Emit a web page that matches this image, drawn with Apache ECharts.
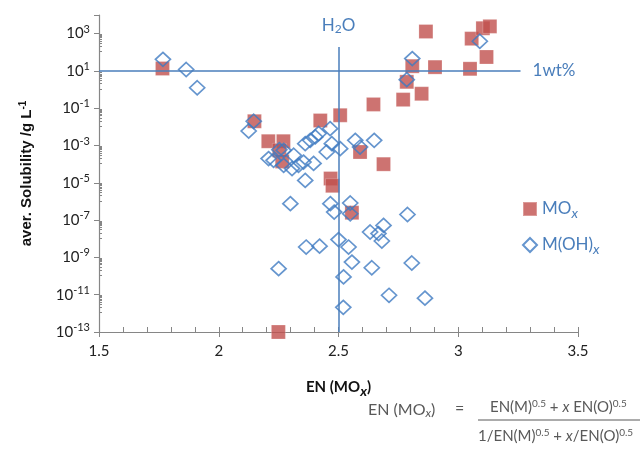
<!DOCTYPE html>
<html>
<head>
<meta charset="utf-8">
<script src="https://cdn.jsdelivr.net/npm/echarts@6/dist/echarts.min.js"></script>
<style>
  html, body { margin: 0; padding: 0; background: #fff; }
  #chart { width: 643px; height: 450px; }
</style>
</head>
<body>
<div id="chart"></div>
<script>
// --- 数据 ---
// MOx: EN 值与平均溶解度 (g/L)
const moxEN  = [1.765, 2.149, 2.207, 2.270, 2.253, 2.265, 2.424, 2.507, 2.467, 2.475,
                2.590, 2.688, 2.646, 2.770, 2.847, 2.785, 2.808, 2.903, 2.865, 3.049,
                3.056, 3.103, 3.132, 3.118, 2.249, 2.556];
const moxSol = [13.5, 0.02, 1.7e-3, 1.7e-3, 5.5e-4, 1.4e-4, 0.022, 0.042, 1.7e-5, 7e-6,
                4.5e-4, 1e-4, 0.16, 0.29, 0.6, 2.6, 18, 16, 1300, 13,
                540, 1950, 2450, 56, 1e-13, 2.5e-7];

// M(OH)x: EN 值与平均溶解度 (g/L)
const mohEN  = [1.767, 1.864, 1.910, 2.146, 2.125, 2.253, 2.271, 2.208, 2.229, 2.271,
                2.313, 2.306, 2.333, 2.354, 2.396, 2.361, 2.361, 2.382, 2.403, 2.417,
                2.465, 2.451, 2.472, 2.507, 2.570, 2.590, 2.649, 2.299, 2.466, 2.482,
                2.549, 2.549, 2.365, 2.421, 2.500, 2.250, 2.542, 2.521, 2.520, 2.556,
                2.639, 2.788, 2.632, 2.667, 2.688, 2.681, 2.806, 2.711, 2.861, 2.808,
                2.785, 3.090];
const mohSol = [42, 12, 1.26, 0.02, 6e-3, 6e-4, 5.5e-4, 2e-4, 1.6e-4, 8.7e-5,
                3e-4, 5.8e-5, 8.7e-5, 1.3e-4, 1.1e-4, 1.35e-5, 1.26e-3, 1.9e-3, 2.9e-3, 4.4e-3,
                8e-3, 4.5e-4, 1.26e-3, 6.8e-4, 1.9e-3, 8.3e-4, 1.9e-3, 7.6e-7, 7.6e-7, 2.7e-7,
                8.3e-7, 2.2e-7, 3.6e-9, 4e-9, 9e-9, 2.5e-10, 3.6e-9, 9e-11, 2.1e-12, 5.6e-10,
                2.8e-10, 2e-7, 2.3e-8, 1.9e-8, 5.2e-8, 7.6e-9, 5e-10, 9.3e-12, 6.5e-12, 46,
                3.4, 390];

// 参考线: 1wt% 水平线, H2O 竖线
const wtLine  = [[1.5, 10], [3.26, 10]];
const h2oLine = [[2.5, 1e-13], [2.5, 190]];

// 坐标轴范围
const xMin = 1.5, xMax = 3.5, xStep = 0.5;
const yMin = 1e-13, yMax = 1e4;

// --- 样式 ---
const BLUE = '#4A7EBB';
const RED = '#C0504D';
const AXIS = '#868686';
const GRAY = '#595959';

const chart = echarts.init(document.getElementById('chart'));

const option = {
    animation: false,
    grid: { left: 99, right: 65, top: 15, bottom: 118 },
    legend: {
        orient: 'vertical',
        left: 517,
        top: 193,
        itemWidth: 14,
        itemHeight: 14,
        itemGap: 14,
        data: ['MOx', 'M(OH)x'],
        formatter: name => name === 'MOx' ? 'MO{i|x}' : 'M(OH){i|x}',
        textStyle: {
            fontFamily: 'Lato', fontSize: 17, color: BLUE, lineHeight: 22,
            rich: {
                i: { fontFamily: 'Lato', fontSize: 14, fontStyle: 'italic', color: BLUE, padding: [8, 0, 0, 0] }
            }
        }
    },
    xAxis: [
        {
            type: 'value', min: xMin, max: xMax, interval: xStep, position: 'bottom',
            axisLine: { onZero: false, lineStyle: { color: AXIS, width: 1.2 } },
            axisTick: { show: true, length: 5, lineStyle: { color: AXIS } },
            splitLine: { show: false },
            axisLabel: { margin: 12, fontFamily: 'Lato', fontSize: 15, color: '#222',
                formatter: v => String(v) },
            name: 'EN (MO{i|x})',
            nameLocation: 'middle',
            nameGap: 45,
            nameTextStyle: {
                fontFamily: 'Lato', fontSize: 15, fontWeight: 'bold', color: '#111',
                rich: { i: { fontFamily: 'Lato', fontSize: 14, fontWeight: 'bold', fontStyle: 'italic', color: '#111', padding: [7, 0, 0, 0] } }
            }
        },
        {
            // 次刻度 (向内)
            type: 'value', min: xMin, max: xMax, interval: 0.1, position: 'bottom',
            axisLine: { show: false, onZero: false },
            axisTick: { show: true, inside: true, length: 5, lineStyle: { color: AXIS } },
            axisLabel: { show: false },
            splitLine: { show: false }
        }
    ],
    yAxis: [
        {
            type: 'log', logBase: 10, min: yMin, max: yMax, interval: 2, position: 'left',
            axisLine: { show: true, onZero: false, lineStyle: { color: AXIS, width: 1.2 } },
            axisTick: { show: true, length: 5, lineStyle: { color: AXIS } },
            splitLine: { show: false },
            axisLabel: {
                margin: 9,
                formatter: function (v) {
                    const e = Math.round(Math.log10(v));
                    if (e > 3) return '';
                    return '{b|10}{s|' + e + '}';
                },
                rich: {
                    b: { fontFamily: 'Lato', fontSize: 15, color: '#222', lineHeight: 20 },
                    s: { fontFamily: 'Lato', fontSize: 11, color: '#222', lineHeight: 12, verticalAlign: 'top' }
                }
            },
            name: 'aver. Solubility /g L{s|-1}',
            nameLocation: 'middle',
            nameGap: 63,
            nameRotate: 90,
            nameTextStyle: {
                fontFamily: 'Liberation Sans', fontSize: 15, fontWeight: 'bold', color: '#111',
                rich: { s: { fontFamily: 'Liberation Sans', fontSize: 10, fontWeight: 'bold', color: '#111', padding: [0, 0, 8, 0] } }
            }
        },
        {
            // 次刻度 (向内)
            type: 'log', logBase: 10, min: yMin, max: yMax, interval: 2, position: 'left',
            axisLine: { show: false, onZero: false },
            axisTick: { show: false, inside: true },
            minorTick: { show: true, splitNumber: 10, length: 3, lineStyle: { color: AXIS } },
            axisLabel: { show: false },
            splitLine: { show: false }
        }
    ],
    series: [
        {
            name: 'ref',
            type: 'line',
            data: [],
            markLine: {
                silent: true,
                symbol: 'none',
                lineStyle: { color: BLUE, width: 1.5, type: 'solid' },
                data: [
                    [
                        { coord: wtLine[0], label: { show: true, position: 'end', distance: 12,
                            formatter: '1wt%', fontFamily: 'Lato', fontSize: 17, color: BLUE } },
                        { coord: wtLine[1] }
                    ],
                    [
                        { coord: h2oLine[0], label: { show: true, position: 'end', distance: 12,
                            formatter: 'H{sub|2}O', fontFamily: 'Lato', fontSize: 17, color: BLUE,
                            rich: { sub: { fontFamily: 'Lato', fontSize: 12, color: BLUE, padding: [8, 0, 0, 0] } } } },
                        { coord: h2oLine[1] }
                    ]
                ]
            }
        },
        {
            name: 'MOx',
            type: 'scatter',
            symbol: 'rect',
            symbolSize: 14,
            itemStyle: { color: RED, borderColor: 'rgba(255,255,255,0.35)', borderWidth: 0.8 },
            data: moxEN.map((x, i) => [x, moxSol[i]])
        },
        {
            name: 'M(OH)x',
            type: 'scatter',
            symbol: 'diamond',
            symbolSize: [15, 14],
            itemStyle: { color: 'rgba(255,255,255,0)', borderColor: '#3F7AC2', borderWidth: 1.7 },
            data: mohEN.map((x, i) => [x, mohSol[i]])
        }
    ],
    graphic: [
        {
            type: 'text', left: 368, top: 402,
            style: {
                text: 'EN (MO{i|x})',
                font: '16px Lato', fill: GRAY,
                rich: { i: { fontFamily: 'Lato', fontSize: 12, fontStyle: 'italic', fill: GRAY, padding: [6, 0, 0, 0] } }
            }
        },
        {
            type: 'text', left: 455, top: 401,
            style: { text: '=', font: '16px Lato', fill: GRAY }
        },
        {
            type: 'text', left: 490, top: 399,
            style: {
                text: 'EN(M){s|0.5} + {i|x} EN(O){s|0.5}',
                font: '15px Lato', fill: GRAY,
                rich: {
                    s: { fontFamily: 'Lato', fontSize: 10, fill: GRAY, padding: [0, 0, 7, 0] },
                    i: { fontFamily: 'Lato', fontSize: 15, fontStyle: 'italic', fill: GRAY }
                }
            }
        },
        {
            type: 'line',
            shape: { x1: 478, y1: 420, x2: 640, y2: 420 },
            style: { stroke: GRAY, lineWidth: 1 }
        },
        {
            type: 'text', left: 478, top: 428,
            style: {
                text: '1/EN(M){s|0.5} + {i|x}/EN(O){s|0.5}',
                font: '15px Lato', fill: GRAY,
                rich: {
                    s: { fontFamily: 'Lato', fontSize: 10, fill: GRAY, padding: [0, 0, 7, 0] },
                    i: { fontFamily: 'Lato', fontSize: 15, fontStyle: 'italic', fill: GRAY }
                }
            }
        }
    ]
};

chart.setOption(option);
</script>
</body>
</html>
